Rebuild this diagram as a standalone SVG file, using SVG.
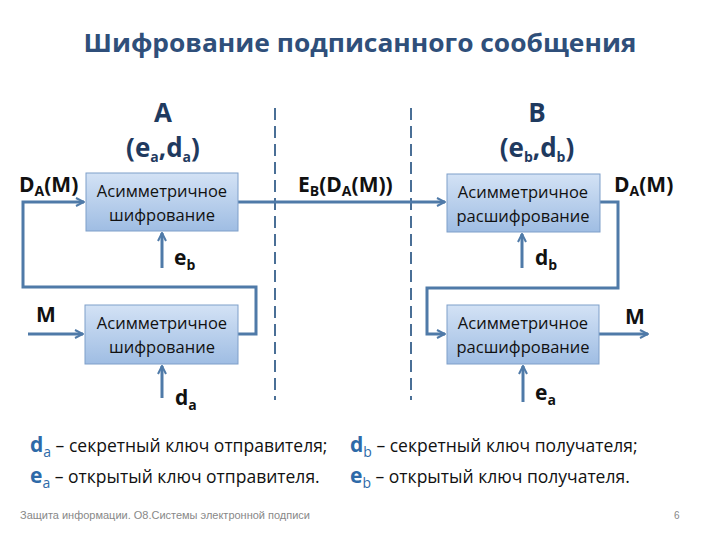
<svg xmlns="http://www.w3.org/2000/svg" width="720" height="540" viewBox="0 0 720 540">
<defs>
<linearGradient id="bx" x1="0" y1="0" x2="0" y2="1">
<stop offset="0" stop-color="#d3e2f5"/>
<stop offset="1" stop-color="#9fbde3"/>
</linearGradient>
<marker id="ar" viewBox="0 0 10 10" refX="9" refY="5" markerWidth="10" markerHeight="10" markerUnits="userSpaceOnUse" orient="auto">
<path d="M1,1 L9,5 L1,9" fill="none" stroke="#4f7aa8" stroke-width="2"/>
</marker>
</defs>
<style>
.box{fill:url(#bx);stroke:#7f9fc9;stroke-width:1}
.bt{font-family:"Open Sans","Liberation Sans",sans-serif;font-size:16.5px;fill:#111;text-anchor:middle}
.c{fill:none;stroke:#4f7aa8;stroke-width:3}
.d{fill:none;stroke:#4a6f96;stroke-width:2;stroke-dasharray:12,6}
.lb{font-family:"Open Sans","Liberation Sans",sans-serif;font-size:21px;font-weight:bold;fill:#111}
.hd{font-family:"Open Sans","Liberation Sans",sans-serif;font-size:26px;font-weight:bold;fill:#1f3a5f;text-anchor:middle}
.lg{font-family:"Open Sans","Liberation Sans",sans-serif;font-size:17.5px;fill:#111}
.k{font-weight:bold;fill:#2e6aa8;font-size:21px}
.s{font-size:14px}
</style>
<rect width="720" height="540" fill="#fff"/>
<text x="360" y="52" font-family="'Open Sans','Liberation Sans',sans-serif" font-size="25" font-weight="bold" fill="#2f4f7a" text-anchor="middle" textLength="553" lengthAdjust="spacingAndGlyphs">Шифрование подписанного сообщения</text>
<text class="hd" x="163" y="122">A</text>
<text class="hd" x="163" y="157">(e<tspan class="s" dy="5">a</tspan><tspan dy="-5">,d</tspan><tspan class="s" dy="5">a</tspan><tspan dy="-5">)</tspan></text>
<text class="hd" x="537" y="122">B</text>
<text class="hd" x="537" y="157">(e<tspan class="s" dy="5">b</tspan><tspan dy="-5">,d</tspan><tspan class="s" dy="5">b</tspan><tspan dy="-5">)</tspan></text>
<g id="dividers">
<line class="d" x1="275" y1="108" x2="275" y2="400"/>
<line class="d" x1="411" y1="108" x2="411" y2="400"/>
</g>
<g id="connectors">
<path class="c" d="M238,334 H256 V287 H23 V202 H84" marker-end="url(#ar)"/>
<path class="c" d="M238,202 H445" marker-end="url(#ar)"/>
<path class="c" d="M162,268 V233" marker-end="url(#ar)"/>
<path class="c" d="M600,202 H618 V288 H427 V334 H445" marker-end="url(#ar)"/>
<path class="c" d="M522,268 V234" marker-end="url(#ar)"/>
<path class="c" d="M28,334 H83" marker-end="url(#ar)"/>
<path class="c" d="M162,398 V366" marker-end="url(#ar)"/>
<path class="c" d="M523,402 V366" marker-end="url(#ar)"/>
<path class="c" d="M599,334 H648" marker-end="url(#ar)"/>
</g>
<g id="enc1">
<rect class="box" x="86" y="173" width="152" height="58"/>
<text class="bt" x="162" y="197">Асимметричное</text>
<text class="bt" x="162" y="221">шифрование</text>
</g>
<g id="dec1">
<rect class="box" x="447" y="174" width="153" height="58"/>
<text class="bt" x="523" y="198">Асимметричное</text>
<text class="bt" x="523" y="222">расшифрование</text>
</g>
<g id="enc2">
<rect class="box" x="85" y="305" width="153" height="59"/>
<text class="bt" x="162" y="329">Асимметричное</text>
<text class="bt" x="162" y="353">шифрование</text>
</g>
<g id="dec2">
<rect class="box" x="447" y="305" width="152" height="59"/>
<text class="bt" x="523" y="329">Асимметричное</text>
<text class="bt" x="523" y="353">расшифрование</text>
</g>
<g id="labels">
<text class="lb" x="19" y="192">D<tspan class="s" dy="4">A</tspan><tspan dy="-4">(M)</tspan></text>
<text class="lb" x="298" y="192">E<tspan class="s" dy="4">B</tspan><tspan dy="-4">(D</tspan><tspan class="s" dy="4">A</tspan><tspan dy="-4">(M))</tspan></text>
<text class="lb" x="614" y="192">D<tspan class="s" dy="4">A</tspan><tspan dy="-4">(M)</tspan></text>
<text class="lb" x="174" y="265">e<tspan class="s" dy="5">b</tspan></text>
<text class="lb" x="535" y="265">d<tspan class="s" dy="5">b</tspan></text>
<text class="lb" x="36" y="322">M</text>
<text class="lb" x="625" y="324">M</text>
<text class="lb" x="175" y="405">d<tspan class="s" dy="5">a</tspan></text>
<text class="lb" x="535" y="400">e<tspan class="s" dy="5">a</tspan></text>
</g>
<g id="legend">
<text class="lg" x="30" y="452"><tspan class="k">d</tspan><tspan class="s" dy="5" fill="#2e6aa8">a</tspan><tspan dy="-5"> – секретный ключ отправителя;</tspan></text>
<text class="lg" x="30" y="483"><tspan class="k">e</tspan><tspan class="s" dy="5" fill="#2e6aa8">a</tspan><tspan dy="-5"> – открытый ключ отправителя.</tspan></text>
<text class="lg" x="350" y="452"><tspan class="k">d</tspan><tspan class="s" dy="5" fill="#2e6aa8">b</tspan><tspan dy="-5"> – секретный ключ получателя;</tspan></text>
<text class="lg" x="350" y="483"><tspan class="k">e</tspan><tspan class="s" dy="5" fill="#2e6aa8">b</tspan><tspan dy="-5"> – открытый ключ получателя.</tspan></text>
</g>
<text x="20" y="519" font-family="'Liberation Sans',sans-serif" font-size="10.5" fill="#888" textLength="290" lengthAdjust="spacingAndGlyphs">Защита информации. О8.Системы электронной подписи</text>
<text x="674" y="519" font-family="'Liberation Sans',sans-serif" font-size="10" fill="#888">6</text>
</svg>
